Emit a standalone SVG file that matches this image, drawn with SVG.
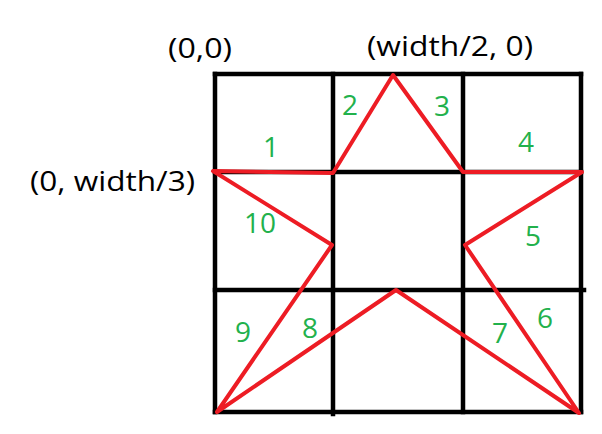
<svg xmlns="http://www.w3.org/2000/svg" width="602" height="434" viewBox="0 0 602 434">
<style>
.grid{stroke:#000;stroke-width:4.5;fill:none;stroke-linecap:square}
.star{stroke:#ED1C24;stroke-width:4;fill:none;stroke-linejoin:round;stroke-linecap:round}
.coord{font-family:"Open Sans","Liberation Sans",sans-serif;font-size:28px;fill:#000}
.num{font-family:"Open Sans","Liberation Sans",sans-serif;font-size:28px;fill:#22B14C;text-anchor:middle}
</style>
<rect width="602" height="434" fill="#fff"/>
<g id="grid" class="grid">
<line x1="215" y1="74" x2="581" y2="74"/>
<line x1="215" y1="172" x2="581" y2="172"/>
<line x1="215" y1="290" x2="584" y2="290"/>
<line x1="215" y1="412" x2="581" y2="412"/>
<line x1="215" y1="74" x2="215" y2="412"/>
<line x1="333" y1="74" x2="333" y2="414"/>
<line x1="463" y1="74" x2="463" y2="412"/>
<line x1="581" y1="74" x2="581" y2="412"/>
</g>
<g id="star">
<polygon class="star" points="213,171 333,173 393,75 463,172 582,172 465,245 579,413 396,290 217,412 332,245"/>
</g>
<g id="coords">
<text class="coord" x="168" y="58" textLength="64" lengthAdjust="spacingAndGlyphs">(0,0)</text>
<text class="coord" x="367" y="56" textLength="166" lengthAdjust="spacingAndGlyphs">(width/2, 0)</text>
<text class="coord" x="30" y="191" textLength="165" lengthAdjust="spacingAndGlyphs">(0, width/3)</text>
</g>
<g id="numbers">
<text class="num" x="271" y="157">1</text>
<text class="num" x="350" y="115">2</text>
<text class="num" x="442" y="116">3</text>
<text class="num" x="526" y="152">4</text>
<text class="num" x="533" y="246">5</text>
<text class="num" x="545" y="328">6</text>
<text class="num" x="500" y="343">7</text>
<text class="num" x="310" y="338">8</text>
<text class="num" x="243" y="342">9</text>
<text class="num" x="260" y="233">10</text>
</g>
</svg>
